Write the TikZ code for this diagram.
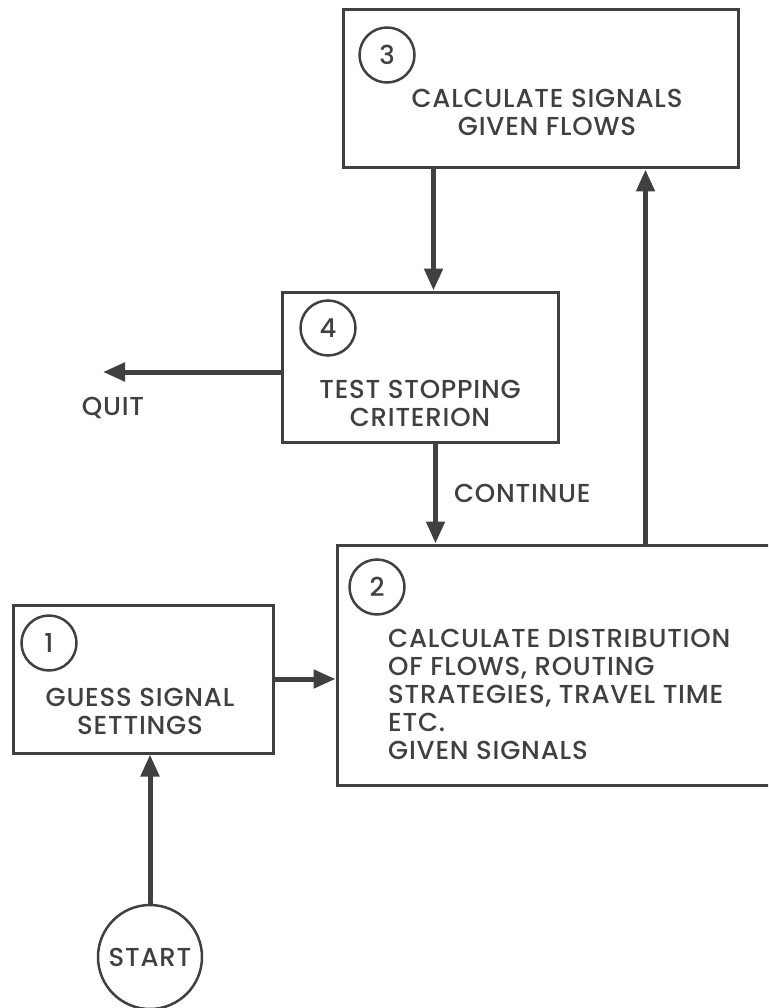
\documentclass[tikz,border=0pt]{standalone}
\usepackage{fontspec}
\setmainfont{Poppins}[UprightFont=* Medium, LetterSpace=3]
\usetikzlibrary{arrows.meta,positioning}
\definecolor{ink}{RGB}{64,64,64}

\begin{document}
\begin{tikzpicture}[
    x=1pt, y=-1pt,
    font=\fontsize{26}{28}\selectfont,
    stepbox/.style={rectangle, draw=ink, line width=3pt, inner sep=0pt},
    numcirc/.style={circle, draw=ink, line width=2.5pt, minimum size=55pt, inner sep=0pt},
    boxtext/.style={text=ink, inner sep=0pt},
    flow/.style={draw=ink, line width=5pt, -{Triangle[length=22pt,width=18pt]}}
]
\useasboundingbox (0,0) rectangle (768,1008);
\clip (0,0) rectangle (768,1008);

% step boxes
\node[stepbox, minimum width=395pt, minimum height=158pt] (calc) at (540.5,89) {};
\node[stepbox, minimum width=276pt, minimum height=150pt] (test) at (420,367) {};
\node[stepbox, minimum width=453pt, minimum height=240pt] (flows) at (563.5,665) {};
\node[stepbox, minimum width=260pt, minimum height=148pt] (guess) at (143,679) {};
\node[numcirc, minimum size=104pt, text=ink] (start) at (150,957) {START};

% step numbers
\node[numcirc, text=ink] (calcnum) at (387,55) {3};
\node[numcirc, text=ink] (testnum) at (328,328) {4};
\node[numcirc, text=ink] (flowsnum) at (377,587) {2};
\node[numcirc, text=ink] (guessnum) at (49,643) {1};

% texts
\node[boxtext, align=center] (calctext) at (547,112) {CALCULATE SIGNALS\\GIVEN FLOWS};
\node[boxtext, align=center] (testtext) at (420,403) {TEST STOPPING\\CRITERION};
\node[boxtext, align=left, anchor=west] (flowstext) at (388,694) {CALCULATE DISTRIBUTION\\OF FLOWS, ROUTING\\STRATEGIES, TRAVEL TIME\\ETC.\\GIVEN SIGNALS};
\node[boxtext, align=center] (guesstext) at (140,711) {GUESS SIGNAL\\SETTINGS};

\coordinate (quitend) at (103,372);
\node[boxtext] (quit) at (113,408) {QUIT};

% connectors
\draw[flow] ([xshift=92pt]calc.south west) -- ([xshift=92pt]calc.south west |- test.north);
\draw[flow] ([xshift=155pt]test.south west) -- ([xshift=155pt]test.south west |- flows.north)
    node[boxtext, midway, right=16pt] (cont) {CONTINUE};
\draw[flow] ([xshift=310pt]flows.north west) -- ([xshift=310pt]flows.north west |- calc.south);
\draw[flow] (guess.east) -- (guess.east -| flows.west);
\draw[flow] (start.north) -- (start.north |- guess.south);
\draw[flow] ([yshift=-5pt]test.west) -- (quitend);

\end{tikzpicture}
\end{document}
